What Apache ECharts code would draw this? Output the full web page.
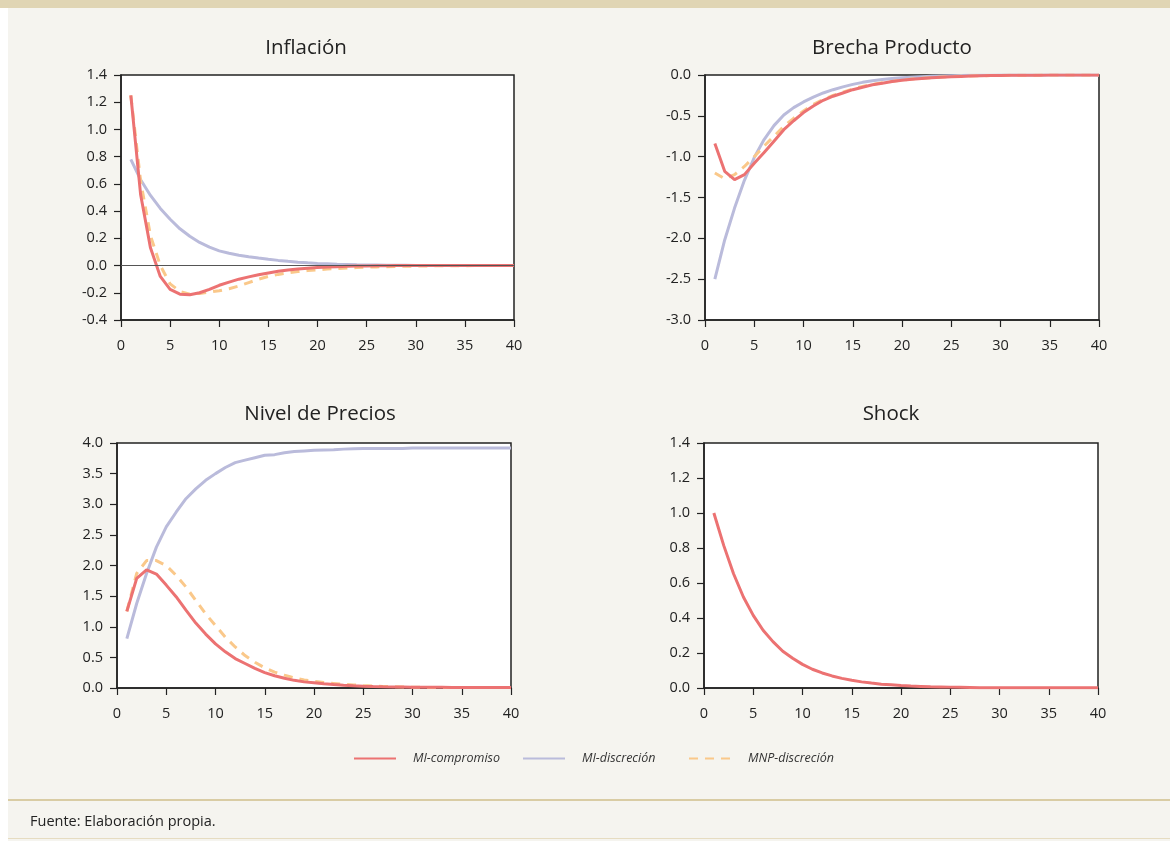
<!DOCTYPE html>
<html>
<head>
<meta charset="utf-8">
<script src="https://cdn.jsdelivr.net/npm/echarts@6/dist/echarts.min.js"></script>
<style>
  body { margin: 0; background: #fff; }
  #panel { position: absolute; left: 8px; top: 0; width: 1162px; height: 841px; background: #f5f4ef; }
  #band { position: absolute; left: 0; top: 0; width: 1170px; height: 8px; background: #e0d5b4; }
  #rule1 { position: absolute; left: 8px; top: 799px; width: 1162px; height: 2px; background: #d9cca4; }
  #rule2 { position: absolute; left: 8px; top: 838px; width: 1162px; height: 1px; background: #e6dcc1; }
  #chart { position: absolute; left: 0; top: 0; width: 1170px; height: 841px; }
</style>
</head>
<body>
<div id="panel"></div>
<div id="band"></div>
<div id="rule1"></div>
<div id="rule2"></div>
<div id="chart"></div>
<script>
var periods = [];
for (var p = 1; p <= 40; p++) periods.push(p);

// Inflación
var inflComp = [1.25, 0.52, 0.13, -0.08, -0.175, -0.21, -0.215, -0.2, -0.175, -0.145, -0.122, -0.1, -0.083, -0.067, -0.054, -0.042, -0.032, -0.025, -0.019, -0.014, -0.01, -0.008, -0.006, -0.004, -0.003, -0.002, -0.001, 0, 0, 0, 0, 0, 0, 0, 0, 0, 0, 0, 0, 0];
var inflDisc = [0.78, 0.63, 0.515, 0.42, 0.34, 0.27, 0.215, 0.17, 0.135, 0.108, 0.09, 0.076, 0.065, 0.055, 0.046, 0.038, 0.031, 0.025, 0.02, 0.016, 0.013, 0.01, 0.008, 0.006, 0.005, 0.004, 0.003, 0.002, 0.002, 0.001, 0.001, 0.001, 0, 0, 0, 0, 0, 0, 0, 0];
var inflNmp = [1.25, 0.62, 0.22, 0.0, -0.135, -0.19, -0.21, -0.205, -0.195, -0.185, -0.17, -0.15, -0.125, -0.1, -0.08, -0.065, -0.053, -0.044, -0.037, -0.031, -0.026, -0.022, -0.018, -0.015, -0.012, -0.01, -0.008, -0.006, -0.005, -0.004, -0.003, -0.002, -0.002, -0.001, -0.001, 0, 0, 0, 0, 0];

// Brecha Producto
var gapComp = [-0.84, -1.18, -1.28, -1.22, -1.08, -0.95, -0.81, -0.67, -0.56, -0.46, -0.38, -0.31, -0.26, -0.22, -0.18, -0.15, -0.12, -0.1, -0.08, -0.065, -0.053, -0.043, -0.035, -0.028, -0.022, -0.017, -0.013, -0.01, -0.007, -0.005, -0.004, -0.003, -0.002, -0.002, -0.001, -0.001, -0.001, 0, 0, 0];
var gapDisc = [-2.5, -2.02, -1.63, -1.29, -1.01, -0.79, -0.62, -0.49, -0.4, -0.33, -0.27, -0.22, -0.18, -0.145, -0.115, -0.09, -0.07, -0.055, -0.043, -0.033, -0.026, -0.02, -0.015, -0.011, -0.008, -0.006, -0.004, -0.003, -0.002, -0.001, 0, 0, 0, 0, 0, 0, 0, 0, 0, 0];
var gapNmp = [-1.2, -1.27, -1.22, -1.12, -1.0, -0.87, -0.75, -0.63, -0.53, -0.44, -0.36, -0.3, -0.25, -0.21, -0.17, -0.14, -0.115, -0.095, -0.078, -0.063, -0.05, -0.04, -0.032, -0.025, -0.02, -0.015, -0.012, -0.009, -0.007, -0.005, -0.004, -0.003, -0.002, -0.001, -0.001, 0, 0, 0, 0, 0];

// Nivel de Precios
var priceComp = [1.25, 1.79, 1.93, 1.86, 1.68, 1.49, 1.27, 1.06, 0.88, 0.72, 0.59, 0.48, 0.4, 0.32, 0.25, 0.2, 0.16, 0.125, 0.1, 0.085, 0.07, 0.057, 0.046, 0.037, 0.03, 0.025, 0.021, 0.018, 0.016, 0.014, 0.013, 0.012, 0.011, 0.01, 0.01, 0.01, 0.01, 0.01, 0.01, 0.01];
var priceDisc = [0.805, 1.38, 1.87, 2.3, 2.63, 2.87, 3.09, 3.25, 3.39, 3.5, 3.6, 3.68, 3.72, 3.76, 3.8, 3.81, 3.84, 3.86, 3.87, 3.88, 3.885, 3.89, 3.9, 3.905, 3.91, 3.91, 3.91, 3.91, 3.91, 3.92, 3.92, 3.92, 3.92, 3.92, 3.92, 3.92, 3.92, 3.92, 3.92, 3.92];
var priceNmp = [1.25, 1.87, 2.08, 2.08, 2.0, 1.84, 1.65, 1.43, 1.21, 1.02, 0.83, 0.67, 0.53, 0.42, 0.33, 0.26, 0.21, 0.165, 0.13, 0.11, 0.09, 0.075, 0.06, 0.05, 0.04, 0.032, 0.026, 0.02, 0.016, 0.013, 0.01, 0.01, 0.01, 0.01, 0.01, 0.01, 0.01, 0.01, 0.01, 0.01];

// Shock
var shock = [1.0, 0.815, 0.653, 0.52, 0.415, 0.33, 0.265, 0.21, 0.17, 0.135, 0.107, 0.086, 0.069, 0.055, 0.044, 0.035, 0.028, 0.022, 0.018, 0.014, 0.011, 0.009, 0.007, 0.006, 0.005, 0.004, 0.003, 0.002, 0.002, 0.001, 0.001, 0.001, 0.001, 0.001, 0.001, 0.001, 0.001, 0.001, 0.001, 0.001];

var titles = ['Inflación', 'Brecha Producto', 'Nivel de Precios', 'Shock'];
var yMins = [-0.4, -3.0, 0, 0];
var yMaxs = [1.4, 0, 4, 1.4];
var yIntervals = [0.2, 0.5, 0.5, 0.2];

var FONT = '"Open Sans", sans-serif';
var RED = '#ec7272', LAV = '#babbdb', ORA = '#fac88a';
var AX = '#222';

var grids = [
  { left: 121, top: 75, width: 393, height: 245 },
  { left: 705, top: 75, width: 394, height: 245 },
  { left: 117, top: 443, width: 394, height: 245 },
  { left: 704, top: 443, width: 394, height: 245 }
];
var titlePos = [[301, 33], [887, 33], [315, 399], [886, 399]];

function pairs(arr) {
  return periods.map(function (x, i) { return [x, arr[i]]; });
}

function line(name, color, arr, idx, dashed, z) {
  return {
    name: name, type: 'line', xAxisIndex: idx, yAxisIndex: idx,
    data: pairs(arr), showSymbol: false, symbol: 'none', z: z,
    lineStyle: { color: color, width: 3, type: dashed ? [9, 7] : 'solid' },
    itemStyle: { color: color },
    emphasis: { disabled: true }
  };
}

var chart = echarts.init(document.getElementById('chart'), null, { renderer: 'canvas' });

var option = {
  backgroundColor: 'transparent',
  animation: false,
  title: titles.map(function (t, i) {
    return {
      text: t, left: titlePos[i][0], top: titlePos[i][1], textAlign: 'center',
      textStyle: { fontFamily: FONT, fontSize: 20.5, fontWeight: 'normal', color: '#222' }
    };
  }),
  grid: grids.map(function (g) {
    return {
      left: g.left, top: g.top, width: g.width, height: g.height,
      show: true, backgroundColor: '#fff', borderColor: AX, borderWidth: 1.5,
      outerBoundsMode: 'none'
    };
  }),
  xAxis: grids.map(function (g, i) {
    return {
      type: 'value', gridIndex: i, min: 0, max: 40, interval: 5,
      axisLine: { show: true, onZero: false, lineStyle: { color: AX, width: 1.5 } },
      axisTick: { show: true, inside: false, length: 7, lineStyle: { color: AX, width: 1.2 } },
      splitLine: { show: false },
      axisLabel: { color: '#222', fontFamily: FONT, fontSize: 14.5, margin: 18, showMinLabel: true, showMaxLabel: true }
    };
  }),
  yAxis: grids.map(function (g, i) {
    return {
      type: 'value', gridIndex: i, min: yMins[i], max: yMaxs[i], interval: yIntervals[i],
      axisLine: { show: true, onZero: false, lineStyle: { color: AX, width: 1.5 } },
      axisTick: { show: true, inside: false, length: 7, lineStyle: { color: AX, width: 1.2 } },
      splitLine: { show: false },
      axisLabel: {
        color: '#222', fontFamily: FONT, fontSize: 14.5, margin: 14, showMinLabel: true, showMaxLabel: true,
        formatter: function (v) { return v.toFixed(1); }
      }
    };
  }),
  legend: [
    { name: 'MI-compromiso', left: 353 },
    { name: 'MI-discreción', left: 522 },
    { name: 'MNP-discreción', left: 688 }
  ].map(function (l) {
    return {
      data: [l.name], left: l.left, top: 752, padding: 0,
      itemWidth: 42, itemHeight: 14, selectedMode: false,
      itemStyle: { opacity: 0 },
      textStyle: { fontFamily: FONT, fontSize: 12.5, fontStyle: 'italic', color: '#333', padding: [0, 0, 0, 12] }
    };
  }),
  graphic: [{
    type: 'text', left: 30, top: 814,
    style: { text: 'Fuente: Elaboración propia.', fontFamily: FONT, fontSize: 14.5, fill: '#222' }
  }],
  series: [
    Object.assign(line('MI-discreción', LAV, inflDisc, 0, false, 2), {
      markLine: {
        silent: true, symbol: 'none', label: { show: false },
        lineStyle: { color: '#555', width: 1, type: 'solid' },
        data: [{ yAxis: 0 }]
      }
    }),
    line('MNP-discreción', ORA, inflNmp, 0, true, 3),
    line('MI-compromiso', RED, inflComp, 0, false, 4),

    line('MI-discreción', LAV, gapDisc, 1, false, 2),
    line('MNP-discreción', ORA, gapNmp, 1, true, 3),
    line('MI-compromiso', RED, gapComp, 1, false, 4),

    line('MI-discreción', LAV, priceDisc, 2, false, 2),
    line('MNP-discreción', ORA, priceNmp, 2, true, 3),
    line('MI-compromiso', RED, priceComp, 2, false, 4),

    line('MI-compromiso', RED, shock, 3, false, 4)
  ]
};

chart.setOption(option);
</script>
</body>
</html>
